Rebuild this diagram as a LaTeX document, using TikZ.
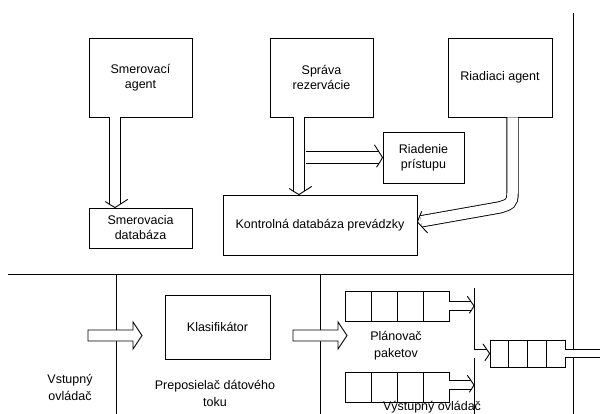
\documentclass[tikz,border=0pt]{standalone}
\usepackage{fontspec}
\setmainfont{Liberation Sans}
\usetikzlibrary{calc}
\begin{document}
\begin{tikzpicture}[x=1pt,y=-1pt,
  box/.style={draw, line width=0.9pt, align=center, inner sep=0pt,
    font=\fontsize{12.5}{15}\selectfont},
  lbl/.style={align=center, inner sep=0pt, font=\fontsize{12.5}{17}\selectfont},
  dbl/.style={draw, double, double distance=10.5pt, line width=0.9pt, shorten >=3.6pt},
  dblsm/.style={draw, double, double distance=8pt, line width=0.9pt, shorten >=3pt},
  hd/.pic={\draw[line width=0.9pt, line cap=round]
     (-8,-12.5) .. controls (-3.5,-6) .. (0,0) .. controls (-3.5,6) .. (-8,12.5);},
  hds/.pic={\draw[line width=0.9pt, line cap=round]
     (-6.5,-9.5) .. controls (-3,-5) .. (0,0) .. controls (-3,5) .. (-6.5,9.5);},
  tip/.style={pos=1, sloped, allow upside down},
  bigarr/.style={draw, fill=white, line width=0.9pt, line join=miter},
  cell/.style={draw, line width=0.9pt, inner sep=0pt},
  sep/.style={draw, line width=0.9pt}]
\useasboundingbox (0,0) rectangle (600,414);

% top boxes
\node[box, minimum width=103pt, minimum height=79pt] (sa) at (140.5,77.5) {Smerovací\\agent};
\node[box, minimum width=103pt, minimum height=40pt] (sd) at (140.5,228) {Smerovacia\\databáza};
\node[box, minimum width=103pt, minimum height=79pt] (sr) at (321.5,77.5) {Správa\\rezervácie};
\node[box, minimum width=104pt, minimum height=79pt] (ra) at (500,77.5) {Riadiaci agent};
\node[box, minimum width=81pt, minimum height=51pt] (rp) at (423.5,157.5) {Riadenie\\prístupu};
\node[box, minimum width=194pt, minimum height=60pt] (kd) at (320,225) {Kontrolná databáza prevádzky};

% top arrows
\coordinate (a1) at ($(sa.south)+(-25.5,0)$);
\draw[dbl] (a1) -- (a1 |- sd.north) pic[tip]{hd};
\coordinate (a2) at ($(sr.south)+(-22.5,0)$);
\draw[dbl] (a2) -- (a2 |- kd.north) pic[tip]{hd};
\coordinate (a3) at ($(a2 |- rp.west)+(7,0)$);
\draw[dbl] (a3) -- (rp.west) pic[tip]{hd};
\coordinate (a4) at ($(ra.south)+(12.5,0)$);
\draw[dbl] (a4) -- ++(0,76) .. controls +(0,10) and +(10,-3) .. ++(-13,14) -- ($(kd.east)+(0,-3)$) pic[tip]{hd};

% separators
\draw[sep] (573,13) coordinate (r1) -- (573,414) coordinate (r2);
\draw[sep] (8,274) coordinate (h1) -- (h1 -| r1);
\draw[sep] (116,274) coordinate (v1) -- (116,414);
\draw[sep] (320,274) coordinate (v2) -- (320,414);
\draw[sep] (474,288) coordinate (vl) -- (474,414);

% bottom
\coordinate (in) at (88,335.5);
\draw[bigarr] (in) ++(0,-5.5) -- ++(45,0) -- ++(0,-8) -- ++(9,13.5) -- ++(-9,13.5) -- ++(0,-8) -- ++(-45,0) -- cycle;
\node[box, minimum width=105pt, minimum height=64pt] (kl) at (217.5,327) {Klasifikátor};
\coordinate (fw) at (293,335.5);
\draw[bigarr] (fw) ++(0,-5.5) -- ++(45,0) -- ++(0,-8) -- ++(9,13.5) -- ++(-9,13.5) -- ++(0,-8) -- ++(-45,0) -- cycle;

\foreach \i/\x in {a/358,b/384,c/410,d/436}{
  \node[cell, minimum width=26pt, minimum height=30pt] (q1\i) at (\x,306) {};
  \node[cell, minimum width=26pt, minimum height=30pt] (q2\i) at (\x,387) {};
}
\foreach \i/\x in {a/499.4,b/518.1,c/536.9,d/555.6}{
  \node[cell, minimum width=18.75pt, minimum height=27pt] (o\i) at (\x,353.5) {};
}
\draw[dblsm] (q1d.east) -- (q1d.east -| vl) pic[tip]{hds};
\draw[dblsm] ($(q2d.east)+(0,-2)$) coordinate (q2e) -- (q2e -| vl) pic[tip]{hds};
\draw[dblsm] (vl |- oa.west) -- (oa.west) pic[tip]{hds};
\draw[draw, double, double distance=7.5pt, line width=0.9pt] (od.east) -- (od.east -| 600,0) coordinate (oe);

% labels
\node[lbl] (t1) at (70,387) {Vstupný\\ovládač};
\node[lbl] (t2) at (215,393) {Preposielač dátového\\toku};
\node[lbl] (t3) at (396,346) {Plánovač\\paketov};
\node[lbl] (t4) at (432,407) {Výstupný ovládač};
\end{tikzpicture}
\end{document}
